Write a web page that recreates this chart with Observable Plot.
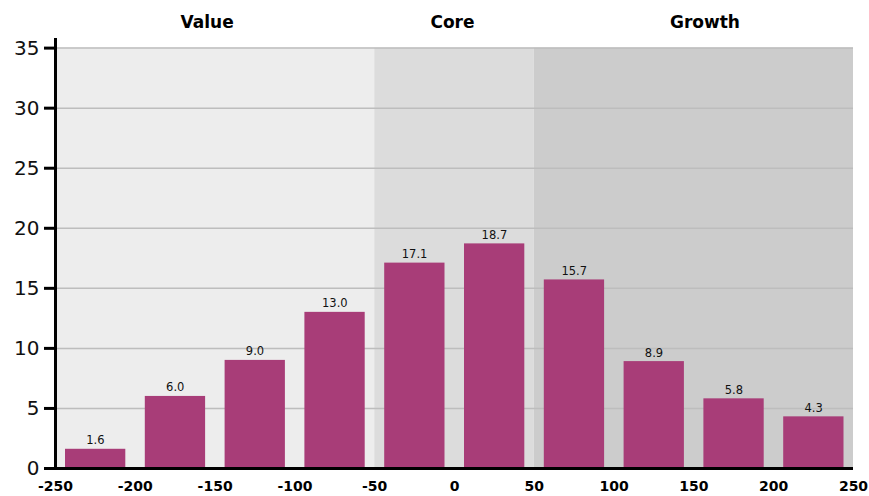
<!DOCTYPE html>
<html>
<head>
<meta charset="utf-8">
<script src="https://cdn.jsdelivr.net/npm/d3@7"></script>
<script src="https://cdn.jsdelivr.net/npm/@observablehq/plot@0.6"></script>
<style>
  html, body { margin: 0; padding: 0; background: #fff; }
  #chart svg { display: block; }
</style>
</head>
<body>
<div id="chart"></div>
<script>
// Histogram bins (left edges), bin width and values (%)
const binStart = [-250, -200, -150, -100, -50, 0, 50, 100, 150, 200];
const binWidth = 50;
const values = [1.6, 6.0, 9.0, 13.0, 17.1, 18.7, 15.7, 8.9, 5.8, 4.3];

// Style zones
const zoneNames = ["Value", "Core", "Growth"];
const zoneStart = [-250, -50, 50];
const zoneEnd = [-50, 50, 250];
const zoneColors = ["#ededed", "#dcdcdc", "#cccccc"];

// Tick labels
const xTicks = [-250, -200, -150, -100, -50, 0, 50, 100, 150, 200, 250];
const yTicks = [0, 5, 10, 15, 20, 25, 30, 35];

const bars = binStart.map((s, i) => ({x1: s, x2: s + binWidth, v: values[i]}));
const zones = zoneNames.map((n, i) => ({name: n, x1: zoneStart[i], x2: zoneEnd[i], color: zoneColors[i], mid: (zoneStart[i] + zoneEnd[i]) / 2}));

const yMax = 35.8;
const font = "DejaVu Sans, Verdana, sans-serif";
const zoneShift = [-8, -2, 11];

const chart = Plot.plot({
  width: 869,
  height: 496,
  marginTop: 38,
  marginBottom: 28,
  marginLeft: 55,
  marginRight: 16,
  style: {fontFamily: font, background: "#fff", color: "#000"},
  x: {domain: [-250, 250]},
  y: {domain: [0, yMax]},
  marks: [
    Plot.rect(zones, {x1: "x1", x2: "x2", y1: 0, y2: 35, fill: "color"}),
    Plot.ruleY(yTicks.filter(d => d > 0), {stroke: "#bdbdbd", strokeWidth: 1.5}),
    Plot.rect(bars, {x1: "x1", x2: "x2", y1: 0, y2: "v", fill: "#a83d78", insetLeft: 10, insetRight: 9.5}),
    Plot.text(bars, {x: d => d.x1 + binWidth / 2, y: "v", text: d => d.v.toFixed(1), lineAnchor: "bottom", dy: -5, fontSize: 11.5, fill: "#111"}),
    ...zones.map((z, i) => Plot.text([z], {x: "mid", y: yMax, text: "name", lineAnchor: "middle", dy: -16, dx: zoneShift[i], fontSize: 17, fontWeight: "bold", fill: "#000"})),
    Plot.ruleX([-250], {y1: 0, y2: yMax, stroke: "#000", strokeWidth: 3}),
    Plot.ruleY([0], {stroke: "#000", strokeWidth: 3}),
    Plot.axisY({ticks: yTicks, tickSize: 11, strokeWidth: 3, tickPadding: 5, fontSize: 20, tickFormat: d => String(d), label: null, fill: "#111"}),
    Plot.axisX({ticks: xTicks, tickSize: 0, tickPadding: 13, fontSize: 14, fontWeight: "bold", tickFormat: d => String(d), label: null, fill: "#000"})
  ]
});
document.getElementById("chart").appendChild(chart);
</script>
</body>
</html>
